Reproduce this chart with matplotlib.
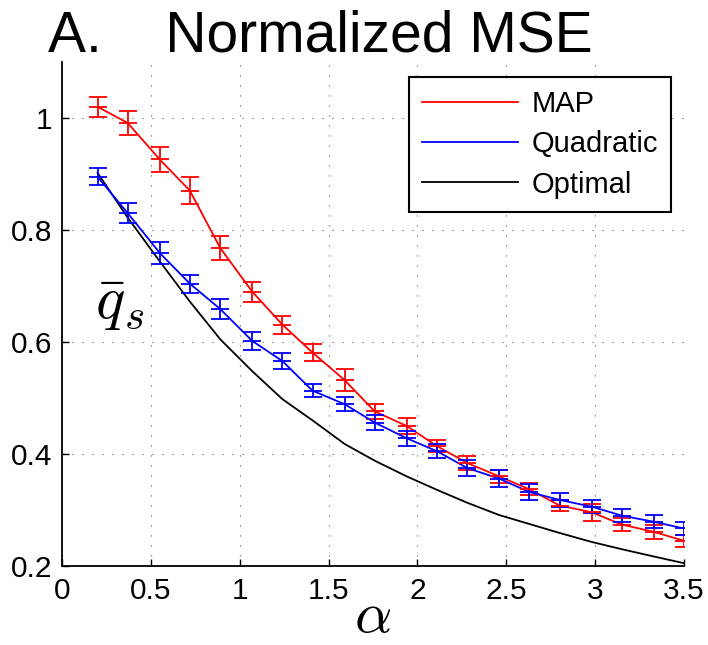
import matplotlib
matplotlib.use("Agg")
import matplotlib.pyplot as plt
from matplotlib.lines import Line2D

plt.rcParams['font.family'] = ['Liberation Sans', 'DejaVu Sans']
plt.rcParams['mathtext.fontset'] = 'cm'

# alpha values where the curves were sampled
alpha = [0.2, 0.37, 0.55, 0.72, 0.89, 1.07, 1.24, 1.41, 1.59, 1.76,
         1.94, 2.11, 2.28, 2.46, 2.63, 2.8, 2.98, 3.15, 3.33, 3.5]

map_mse = [1.020, 0.991, 0.926, 0.870, 0.768, 0.690, 0.631, 0.581, 0.532, 0.476,
           0.450, 0.414, 0.384, 0.360, 0.337, 0.308, 0.296, 0.274, 0.261, 0.245]
map_err = [0.018, 0.022, 0.022, 0.024, 0.022, 0.018, 0.016, 0.015, 0.019, 0.013,
           0.014, 0.011, 0.013, 0.011, 0.011, 0.010, 0.015, 0.012, 0.012, 0.011]

quad_mse = [0.895, 0.830, 0.759, 0.704, 0.659, 0.602, 0.566, 0.513, 0.489, 0.456,
            0.428, 0.405, 0.375, 0.356, 0.332, 0.318, 0.306, 0.290, 0.279, 0.267]
quad_err = [0.015, 0.018, 0.019, 0.016, 0.018, 0.016, 0.015, 0.012, 0.013, 0.013,
            0.013, 0.012, 0.015, 0.015, 0.014, 0.012, 0.012, 0.012, 0.012, 0.012]

opt_mse = [0.902, 0.822, 0.744, 0.672, 0.605, 0.548, 0.498, 0.460, 0.418, 0.388,
           0.360, 0.336, 0.313, 0.291, 0.275, 0.259, 0.243, 0.230, 0.217, 0.205]

x_ticks = [0, 0.5, 1, 1.5, 2, 2.5, 3, 3.5]
x_labels = ['0', '0.5', '1', '1.5', '2', '2.5', '3', '3.5']
y_ticks = [0.2, 0.4, 0.6, 0.8, 1.0]
y_labels = ['0.2', '0.4', '0.6', '0.8', '1']

W, H = 708, 645
fig = plt.figure(figsize=(W / 100, H / 100), dpi=100)
ax = fig.add_axes([62 / W, 1 - 566 / H, 622 / W, 504 / H])


def draw_series(y, err, color):
    ax.plot(alpha, y, color=color, lw=1.3, zorder=3)
    ax.errorbar(alpha, y, yerr=err, fmt='_', color=color, ms=12.5, mew=1.3,
                elinewidth=1.3, capsize=6.3, capthick=1.3, zorder=3)


draw_series(map_mse, map_err, 'red')
draw_series(quad_mse, quad_err, 'blue')
ax.plot(alpha, opt_mse, color='black', lw=1.3, zorder=2)

ax.set_xlim(0, 3.5)
ax.set_ylim(0.2, 1.1)
ax.set_xticks(x_ticks)
ax.set_xticklabels(x_labels)
ax.set_yticks(y_ticks)
ax.set_yticklabels(y_labels)
ax.spines['top'].set_visible(False)
ax.spines['right'].set_visible(False)
ax.spines['left'].set_linewidth(1.3)
ax.spines['bottom'].set_linewidth(1.3)
ax.tick_params(direction='in', length=5, width=1, labelsize=21.5)
ax.tick_params(axis='x', pad=8)
ax.tick_params(axis='y', pad=7)
ax.set_axisbelow(True)
ax.grid(True, linestyle=(0, (1, 8)), color='0.35', lw=0.8)

ax.set_xlabel(r'$\alpha$', fontsize=42, labelpad=-11)
ax.text(0.326, 0.667, r'$\bar{q}_s$', fontsize=44, ha='center', va='center')

fig.text(48 / W, 1 - 52 / H, 'A.    Normalized MSE', fontsize=41,
         ha='left', va='baseline')

handles = [Line2D([], [], color='red', lw=1.3),
           Line2D([], [], color='blue', lw=1.3),
           Line2D([], [], color='black', lw=1.3)]
leg = ax.legend(handles, ['MAP', 'Quadratic', 'Optimal'], loc='upper right',
                bbox_to_anchor=(671 / W, 1 - 77 / H), bbox_transform=fig.transFigure,
                borderaxespad=0, fontsize=21, handlelength=3.3, handletextpad=0.45,
                labelspacing=0.42, borderpad=0.45, fancybox=False, framealpha=1)
leg.get_frame().set_edgecolor('black')
leg.get_frame().set_linewidth(1.5)

fig.savefig('out.png', dpi=100)
